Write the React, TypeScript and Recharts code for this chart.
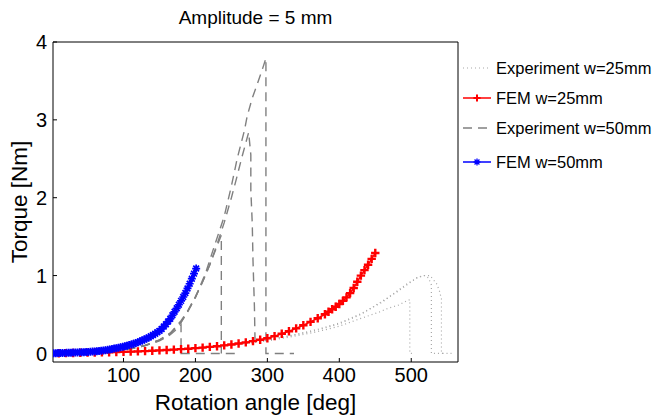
import { LineChart, Line, XAxis, YAxis, Label } from 'recharts';

const X_TICKS = [100, 200, 300, 400, 500];
const Y_TICKS = [0, 1, 2, 3, 4];

// FEM w=25mm (red, + markers)
const femW25Angle = [0, 10, 20, 30, 40, 50, 60, 70, 80, 90, 100, 110, 120, 130, 140, 150, 160, 170, 180, 190, 200, 210, 220, 230, 240, 250, 260, 270, 280, 290, 300, 310, 320, 330, 340, 350, 360, 370, 380, 385, 390, 395, 400, 405, 410, 415, 420, 425, 430, 435, 440, 445, 450];
const femW25Torque = [0, 0.002, 0.004, 0.006, 0.008, 0.01, 0.012, 0.014, 0.016, 0.018, 0.02, 0.023, 0.026, 0.03, 0.034, 0.039, 0.044, 0.049, 0.055, 0.061, 0.068, 0.075, 0.084, 0.093, 0.104, 0.115, 0.128, 0.142, 0.158, 0.176, 0.195, 0.222, 0.252, 0.285, 0.322, 0.362, 0.405, 0.452, 0.503, 0.535, 0.568, 0.6, 0.635, 0.675, 0.72, 0.775, 0.84, 0.92, 1.0, 1.07, 1.14, 1.215, 1.29];

// FEM w=50mm (blue, * markers)
const femW50Angle = [0, 3, 6, 9, 12, 15, 18, 21, 24, 27, 30, 33, 36, 39, 42, 45, 48, 51, 54, 57, 60, 63, 66, 69, 72, 75, 78, 81, 84, 87, 90, 93, 96, 99, 102, 105, 108, 111, 114, 117, 120, 123, 126, 129, 132, 135, 138, 141, 144, 147, 150, 153, 156, 159, 162, 165, 168, 171, 174, 177, 180, 183, 186, 189, 192, 195, 198, 201];
const femW50Torque = [0, 0.002, 0.003, 0.004, 0.005, 0.006, 0.007, 0.008, 0.009, 0.01, 0.011, 0.012, 0.013, 0.014, 0.015, 0.016, 0.018, 0.02, 0.022, 0.024, 0.026, 0.029, 0.032, 0.035, 0.038, 0.042, 0.046, 0.051, 0.056, 0.062, 0.068, 0.074, 0.08, 0.086, 0.093, 0.1, 0.108, 0.116, 0.125, 0.134, 0.144, 0.155, 0.166, 0.178, 0.191, 0.205, 0.22, 0.236, 0.253, 0.271, 0.29, 0.315, 0.345, 0.375, 0.41, 0.445, 0.49, 0.535, 0.58, 0.625, 0.675, 0.725, 0.775, 0.835, 0.895, 0.96, 1.025, 1.09];

// Experiment w=25mm runs [angle, torque]
const expW25RunA = [[0, 0], [50, 0.005], [100, 0.015], [150, 0.035], [200, 0.065], [250, 0.105], [300, 0.16], [340, 0.225], [370, 0.28], [400, 0.35], [430, 0.45], [455, 0.53], [468, 0.58], [482, 0.62], [495, 0.68], [498, 0.69], [498, 0], [505, 0]];
const expW25RunB = [[0, 0], [50, 0.005], [100, 0.015], [150, 0.035], [200, 0.07], [250, 0.11], [300, 0.17], [340, 0.24], [370, 0.3], [400, 0.38], [430, 0.5], [463, 0.69], [482, 0.8], [500, 0.92], [509, 0.98], [518, 1.0], [524, 0.97], [528, 0.88], [528, 0], [548, 0]];
const expW25RunC = [[0, 0], [50, 0.005], [100, 0.015], [150, 0.035], [200, 0.07], [250, 0.115], [300, 0.175], [340, 0.245], [370, 0.31], [400, 0.39], [430, 0.51], [460, 0.66], [480, 0.8], [495, 0.9], [508, 0.97], [518, 1.0], [526, 1.0], [535, 0.9], [539, 0.81], [542, 0.7], [542, 0], [558, 0]];

// Experiment w=50mm runs [angle, torque]
const expW50RunA = [[0, 0], [40, 0.005], [80, 0.025], [110, 0.06], [130, 0.1], [150, 0.16], [165, 0.24], [175, 0.32], [180, 0.37], [180, 0], [258, 0]];
const expW50RunB = [[0, 0], [40, 0.005], [80, 0.025], [110, 0.06], [130, 0.1], [150, 0.17], [165, 0.25], [180, 0.4], [190, 0.55], [200, 0.72], [210, 0.92], [220, 1.14], [228, 1.33], [236, 1.52], [236, 0]];
const expW50RunC = [[0, 0], [40, 0.005], [80, 0.025], [110, 0.065], [130, 0.105], [150, 0.175], [165, 0.26], [180, 0.42], [190, 0.56], [200, 0.73], [210, 0.92], [220, 1.14], [230, 1.4], [240, 1.68], [250, 2.0], [258, 2.28], [264, 2.5], [269, 2.67], [274, 2.84], [277, 2.55], [277, 2.1], [279, 1.67], [280, 1.2], [282, 0.6], [283, 0.08]];
const expW50RunD = [[0, 0], [40, 0.005], [80, 0.025], [110, 0.06], [130, 0.1], [150, 0.17], [165, 0.26], [180, 0.4], [190, 0.55], [200, 0.72], [214, 1.03], [226, 1.37], [240, 1.76], [250, 2.15], [258, 2.5], [263, 2.68], [268, 2.86], [272, 3.05], [279, 3.28], [286, 3.46], [292, 3.62], [298, 3.79], [298, 0], [337, 0]];

const zip = (xs: number[], ys: number[]) => xs.map((x, i) => ({ x, y: ys[i] }));
const pairs = (run: number[][]) => run.map(([x, y]) => ({ x, y }));

const FONT = '"Liberation Sans", Arial, Helvetica, sans-serif';
const RED = '#ff0000';
const BLUE = '#0000ff';
const GRAY50 = '#808080';
const GRAY25 = '#a8a8a8';

const plusPath = (cx: number, cy: number, s: number) =>
  `M${cx - s},${cy}H${cx + s}M${cx},${cy - s}V${cy + s}`;
const starPath = (cx: number, cy: number, s: number) => {
  const d = s * 0.72;
  return `M${cx - s},${cy}H${cx + s}M${cx},${cy - s}V${cy + s}M${cx - d},${cy - d}L${cx + d},${cy + d}M${cx - d},${cy + d}L${cx + d},${cy - d}`;
};

const PlusDot = (props: any) => {
  const { cx, cy, index } = props;
  if (cx == null || cy == null) return <g key={`p${index}`} />;
  return <path key={`p${index}`} d={plusPath(cx, cy, 4.2)} stroke={RED} strokeWidth={2.4} fill="none" />;
};

const StarDot = (props: any) => {
  const { cx, cy, index } = props;
  if (cx == null || cy == null) return <g key={`s${index}`} />;
  return <path key={`s${index}`} d={starPath(cx, cy, 4)} stroke={BLUE} strokeWidth={1.7} fill="none" />;
};

const LEGEND = [
  { label: 'Experiment w=25mm', kind: 'dot', y: 68 },
  { label: 'FEM w=25mm', kind: 'plus', y: 98 },
  { label: 'Experiment w=50mm', kind: 'dash', y: 128 },
  { label: 'FEM w=50mm', kind: 'star', y: 162 },
];

function LegendBox() {
  return (
    <svg width={198} height={200} style={{ position: 'absolute', left: 458, top: 0 }}>
      {LEGEND.map((e) => (
        <g key={e.label}>
          {e.kind === 'dot' && (
            <line x1={5} x2={33} y1={e.y} y2={e.y} stroke={GRAY25} strokeWidth={1.2} strokeDasharray="1 3" />
          )}
          {e.kind === 'dash' && (
            <line x1={5} x2={33} y1={e.y} y2={e.y} stroke={GRAY50} strokeWidth={1.4} strokeDasharray="9 6" />
          )}
          {e.kind === 'plus' && (
            <>
              <line x1={5} x2={33} y1={e.y} y2={e.y} stroke={RED} strokeWidth={1.5} />
              <path d={plusPath(19, e.y, 3.6)} stroke={RED} strokeWidth={2} fill="none" />
            </>
          )}
          {e.kind === 'star' && (
            <>
              <line x1={5} x2={33} y1={e.y} y2={e.y} stroke={BLUE} strokeWidth={1.5} />
              <path d={starPath(19, e.y, 3.4)} stroke={BLUE} strokeWidth={1.3} fill="none" />
            </>
          )}
          <text x={38} y={e.y} dy="0.36em" fontSize={16.5} fontFamily={FONT} fill="#000">
            {e.label}
          </text>
        </g>
      ))}
    </svg>
  );
}

export default function App() {
  const tickStyle = { fill: '#000', fontSize: 20, fontFamily: FONT };
  return (
    <div style={{ position: 'absolute', left: 0, top: 0, width: 656, height: 418, background: '#fff' }}>
      <div
        style={{
          position: 'absolute', left: 0, top: 6, width: 511, textAlign: 'center',
          fontFamily: FONT, fontSize: 19, lineHeight: '24px', color: '#000',
        }}
      >
        Amplitude = 5 mm
      </div>
      <LineChart
        width={656}
        height={418}
        margin={{ top: 41, right: 197, bottom: 0, left: 0 }}
        style={{ fontFamily: FONT }}
      >
        <XAxis
          type="number"
          dataKey="x"
          domain={[2, 565]}
          allowDataOverflow
          ticks={X_TICKS}
          height={56}
          tickSize={-4}
          tickMargin={10}
          tick={tickStyle}
          axisLine={{ stroke: '#000' }}
          tickLine={{ stroke: '#000' }}
        >
          <Label value="Rotation angle [deg]" position="insideBottom" offset={8} style={{ fill: '#000', fontSize: 22.5, fontFamily: FONT }} />
        </XAxis>
        <XAxis
          xAxisId="top"
          orientation="top"
          type="number"
          dataKey="x"
          domain={[2, 565]}
          allowDataOverflow
          ticks={X_TICKS}
          height={1}
          tickSize={-4}
          tick={false}
          axisLine={{ stroke: '#000' }}
          tickLine={{ stroke: '#000' }}
        />
        <YAxis
          type="number"
          domain={[-0.11, 4]}
          allowDataOverflow
          ticks={Y_TICKS}
          width={53}
          tickSize={-4}
          tickMargin={10}
          tick={tickStyle}
          axisLine={{ stroke: '#000' }}
          tickLine={{ stroke: '#000' }}
        >
          <Label value="Torque [Nm]" angle={-90} position="insideLeft" offset={19} style={{ textAnchor: 'middle', fill: '#000', fontSize: 22.5, fontFamily: FONT }} />
        </YAxis>
        <YAxis
          yAxisId="right"
          orientation="right"
          type="number"
          domain={[-0.11, 4]}
          allowDataOverflow
          ticks={Y_TICKS}
          width={1}
          tickSize={-4}
          tick={false}
          axisLine={{ stroke: '#000' }}
          tickLine={{ stroke: '#000' }}
        />

        {/* invisible series so the top and right box axes are drawn */}
        <Line
          xAxisId="top"
          yAxisId="right"
          data={pairs(expW50RunD)}
          dataKey="y"
          stroke="none"
          dot={false}
          activeDot={false}
          isAnimationActive={false}
        />

        {[expW25RunA, expW25RunB, expW25RunC].map((run, i) => (
          <Line
            key={`e25-${i}`}
            data={pairs(run)}
            dataKey="y"
            type="linear"
            stroke={GRAY25}
            strokeWidth={1.2}
            strokeDasharray="1 3"
            dot={false}
            activeDot={false}
            isAnimationActive={false}
          />
        ))}
        <Line
          data={zip(femW25Angle, femW25Torque)}
          dataKey="y"
          type="linear"
          stroke={RED}
          strokeWidth={1.5}
          dot={PlusDot}
          activeDot={false}
          isAnimationActive={false}
        />
        {[expW50RunA, expW50RunB, expW50RunC, expW50RunD].map((run, i) => (
          <Line
            key={`e50-${i}`}
            data={pairs(run)}
            dataKey="y"
            type="linear"
            stroke={GRAY50}
            strokeWidth={1.4}
            strokeDasharray="9 6"
            dot={false}
            activeDot={false}
            isAnimationActive={false}
          />
        ))}
        <Line
          data={zip(femW50Angle, femW50Torque)}
          dataKey="y"
          type="linear"
          stroke={BLUE}
          strokeWidth={1.5}
          dot={StarDot}
          activeDot={false}
          isAnimationActive={false}
        />
      </LineChart>
      <LegendBox />
    </div>
  );
}
